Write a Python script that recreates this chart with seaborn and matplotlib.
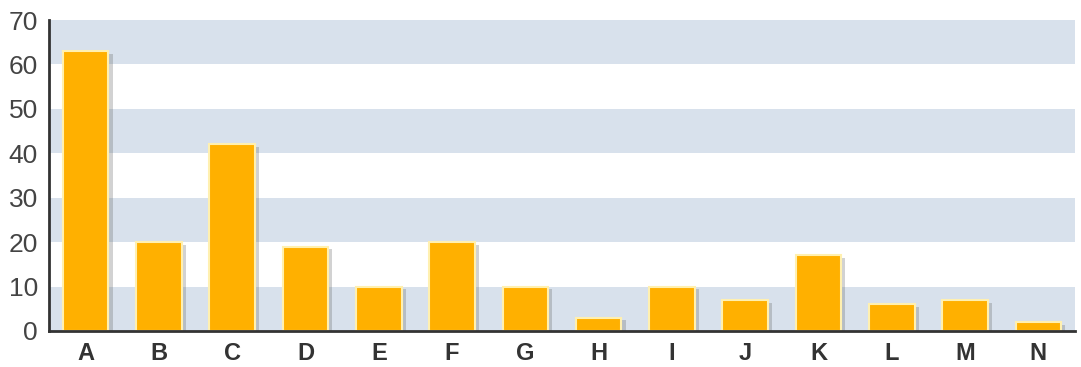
import matplotlib
matplotlib.use("Agg")
import matplotlib.pyplot as plt
import matplotlib.patheffects as pe
import seaborn as sns
import pandas as pd

categories = ["A", "B", "C", "D", "E", "F", "G", "H", "I", "J", "K", "L", "M", "N"]
values = [63, 20, 42, 19, 10, 20, 10, 3, 10, 7, 17, 6, 7, 2]
y_ticks = [0, 10, 20, 30, 40, 50, 60, 70]

df = pd.DataFrame({"cat": categories, "val": values})

sns.set_theme(style="white")
plt.rcParams["font.family"] = ["Liberation Sans", "DejaVu Sans"]

fig = plt.figure(figsize=(10.81, 3.67), dpi=100)
ax = fig.add_axes([49 / 1081, 36 / 367, (1075 - 49) / 1081, (331 - 20) / 367])

# alternating bands
for lo in range(0, 70, 20):
    ax.axhspan(lo, lo + 10, color="#d8e1ec", zorder=0, lw=0)

sns.barplot(data=df, x="cat", y="val", color="#FFB000", width=0.62,
            saturation=1, ax=ax, zorder=3)
for p in ax.patches:
    if hasattr(p, "get_height") and p.get_height() > 0 and p.get_width() < 1:
        p.set_edgecolor("#FFF0B0")
        p.set_linewidth(1.5)
        p.set_path_effects([pe.SimplePatchShadow(offset=(3, -2), shadow_rgbFace="#6a6a6a", alpha=0.3),
                            pe.Normal()])

ax.set_xlim(-0.5, 13.5)
ax.set_ylim(0, 70)
ax.set_yticks(y_ticks)
ax.set_xlabel("")
ax.set_ylabel("")
ax.tick_params(axis="y", length=0, pad=8, labelsize=19, labelcolor="#444444")
ax.tick_params(axis="x", length=0, pad=8, labelsize=17, labelcolor="#333333")
for t in ax.get_xticklabels():
    t.set_fontweight("bold")

for s in ["top", "right"]:
    ax.spines[s].set_visible(False)
for s in ["left", "bottom"]:
    ax.spines[s].set_color("#333333")
    ax.spines[s].set_linewidth(2)
    ax.spines[s].set_zorder(5)

fig.savefig("out.png", dpi=100)
